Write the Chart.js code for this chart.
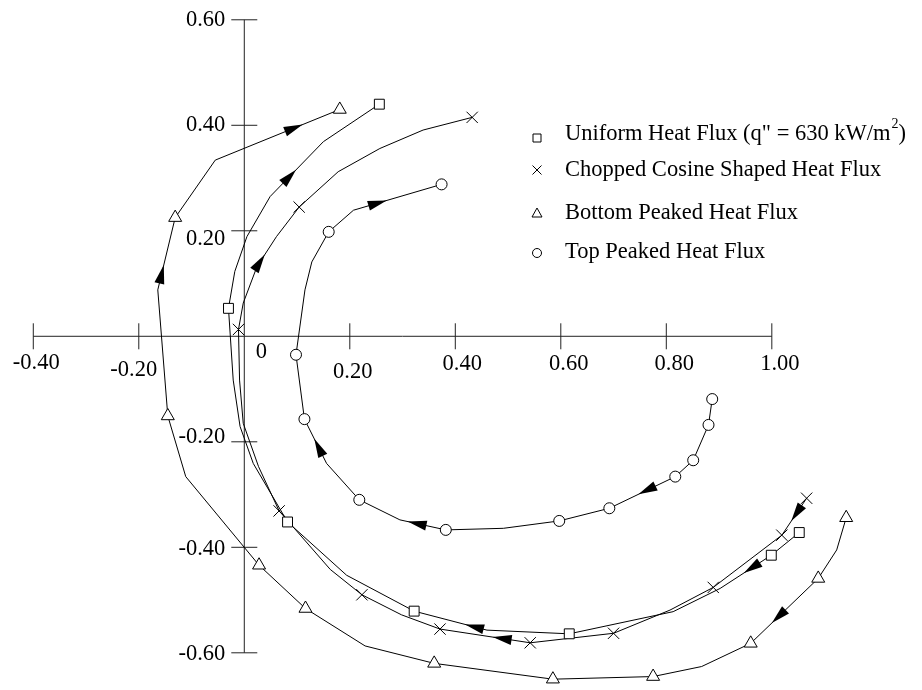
<!DOCTYPE html>
<html>
<head>
<meta charset="utf-8">
<script src="https://cdn.jsdelivr.net/npm/chart.js@4.4.0/dist/chart.umd.min.js"></script>
<style>
    html, body { margin: 0; padding: 0; background: #fff; }
    canvas { display: block; }
</style>
</head>
<body>
<canvas id="flux-chart" width="922" height="690"></canvas>
<script>
// every series is listed in flow order (the way the arrows point)

// Uniform Heat Flux
const uniformX = [1.052, 0.999, 0.902, 0.813, 0.616, 0.460, 0.322, 0.194, 0.082, 0.017, -0.008, -0.021, -0.030, -0.018, 0.005, 0.049, 0.150, 0.256]
const uniformY = [-0.372, -0.415, -0.478, -0.522, -0.564, -0.557, -0.521, -0.453, -0.352, -0.241, -0.171, -0.083, 0.053, 0.123, 0.189, 0.265, 0.369, 0.440]
const uniformMarked = [0, 1, 4, 6, 8, 12, 17]
const uniformArrowX = [0.962, 0.436, 0.083]
const uniformArrowY = [-0.437, -0.555, 0.304]

// Chopped Cosine Shaped Heat Flux
const cosineX = [1.066, 1.019, 0.889, 0.807, 0.700, 0.542, 0.371, 0.298, 0.223, 0.163, 0.066, 0.027, -0.002, -0.009, -0.011, -0.002, 0.024, 0.061, 0.104, 0.178, 0.257, 0.339, 0.432]
const cosineY = [-0.307, -0.377, -0.476, -0.519, -0.563, -0.581, -0.555, -0.528, -0.490, -0.442, -0.331, -0.247, -0.165, -0.083, 0.013, 0.063, 0.132, 0.189, 0.245, 0.312, 0.356, 0.391, 0.415]
const cosineMarked = [0, 1, 2, 4, 5, 6, 8, 10, 14, 18, 22]
const cosineArrowX = [1.054, 0.489, 0.030]
const cosineArrowY = [-0.339, -0.577, 0.138]

// Bottom Peaked Heat Flux
const bottomX = [1.141, 1.123, 1.088, 0.960, 0.867, 0.775, 0.585, 0.360, 0.229, 0.116, 0.028, -0.111, -0.145, -0.164, -0.131, -0.055, 0.181]
const bottomY = [-0.344, -0.405, -0.459, -0.582, -0.626, -0.645, -0.650, -0.620, -0.587, -0.516, -0.434, -0.266, -0.151, 0.088, 0.225, 0.334, 0.430]
const bottomMarked = [0, 2, 3, 5, 6, 7, 9, 10, 12, 14, 16]
const bottomArrowX = [1.021, -0.166, 0.092]
const bottomArrowY = [-0.538, 0.119, 0.397]

// Top Peaked Heat Flux
const topX = [0.887, 0.880, 0.851, 0.817, 0.692, 0.597, 0.491, 0.382, 0.295, 0.218, 0.156, 0.114, 0.098, 0.115, 0.128, 0.160, 0.207, 0.374]
const topY = [-0.119, -0.168, -0.235, -0.266, -0.326, -0.350, -0.364, -0.367, -0.348, -0.310, -0.241, -0.157, -0.035, 0.088, 0.141, 0.198, 0.239, 0.288]
const topMarked = [0, 1, 2, 3, 4, 5, 7, 9, 11, 12, 15, 17]
const topArrowX = [0.766, 0.327, 0.140, 0.251]
const topArrowY = [-0.295, -0.361, -0.212, 0.255]

// axes
const xTicks = [-0.4, -0.2, 0, 0.2, 0.4, 0.6, 0.8, 1.0]
const xTickLabels = ['-0.40', '-0.20', '0', '0.20', '0.40', '0.60', '0.80', '1.00']
const yTicks = [0.6, 0.4, 0.2, -0.2, -0.4, -0.6]
const yTickLabels = ['0.60', '0.40', '0.20', '-0.20', '-0.40', '-0.60']

const legendLabels = ['Uniform Heat Flux (q" = 630 kW/m', 'Chopped Cosine Shaped Heat Flux', 'Bottom Peaked Heat Flux', 'Top Peaked Heat Flux']

const FONT = '"Liberation Serif", "Times New Roman", serif'

const toPoints = (xs, ys) => xs.map((x, i) => ({ x: x, y: ys[i] }))

function series(xs, ys, marked, style, radius) {
    return {
        data: toPoints(xs, ys),
        showLine: true,
        tension: 0,
        borderColor: '#000',
        borderWidth: 1,
        pointStyle: style,
        pointRadius: ctx => marked.includes(ctx.dataIndex) ? radius : 0,
        pointBackgroundColor: '#fff',
        pointBorderColor: '#000',
        pointBorderWidth: 1,
    }
}

const arrows = [
    { xs: uniformX, ys: uniformY, ax: uniformArrowX, ay: uniformArrowY },
    { xs: cosineX, ys: cosineY, ax: cosineArrowX, ay: cosineArrowY },
    { xs: bottomX, ys: bottomY, ax: bottomArrowX, ay: bottomArrowY },
    { xs: topX, ys: topY, ax: topArrowX, ay: topArrowY },
]

// small nudges so the tick labels sit where they do in the figure
const xLabelShift = [[3, 369], [-5, 376], [17, 358], [3, 378], [7, 370], [8, 370], [8, 370], [8, 370]]
const yLabelBase = [26, 131, 245, 443, 555, 660]

const axesPlugin = {
    id: 'crossAxes',
    beforeDatasetsDraw(chart) {
        const ctx = chart.ctx
        const sx = chart.scales.x, sy = chart.scales.y
        const x0 = sx.getPixelForValue(0), y0 = sy.getPixelForValue(0)
        ctx.save()
        ctx.strokeStyle = '#222'
        ctx.lineWidth = 1
        ctx.beginPath()
        ctx.moveTo(sx.getPixelForValue(xTicks[0]), y0)
        ctx.lineTo(sx.getPixelForValue(xTicks[xTicks.length - 1]), y0)
        ctx.moveTo(x0, sy.getPixelForValue(yTicks[0]))
        ctx.lineTo(x0, sy.getPixelForValue(yTicks[yTicks.length - 1]))
        xTicks.forEach(v => {
            if (v === 0) return
            const px = sx.getPixelForValue(v)
            ctx.moveTo(px, y0 - 13)
            ctx.lineTo(px, y0 + 13)
        })
        yTicks.forEach(v => {
            const py = sy.getPixelForValue(v)
            ctx.moveTo(x0 - 13, py)
            ctx.lineTo(x0 + 13, py)
        })
        ctx.stroke()

        ctx.fillStyle = '#000'
        ctx.font = '22.5px ' + FONT
        ctx.textBaseline = 'alphabetic'
        ctx.textAlign = 'center'
        xTicks.forEach((v, i) => {
            ctx.fillText(xTickLabels[i], sx.getPixelForValue(v) + xLabelShift[i][0], xLabelShift[i][1])
        })
        ctx.textAlign = 'right'
        yTicks.forEach((v, i) => {
            ctx.fillText(yTickLabels[i], x0 - 19, yLabelBase[i])
        })
        ctx.restore()
    },
    afterDatasetsDraw(chart) {
        const ctx = chart.ctx
        const sx = chart.scales.x, sy = chart.scales.y
        ctx.save()
        ctx.fillStyle = '#000'
        arrows.forEach(a => {
            a.ax.forEach((vx, k) => {
                const px = sx.getPixelForValue(vx), py = sy.getPixelForValue(a.ay[k])
                let best = null
                for (let i = 0; i < a.xs.length - 1; i++) {
                    const x1 = sx.getPixelForValue(a.xs[i]), y1 = sy.getPixelForValue(a.ys[i])
                    const x2 = sx.getPixelForValue(a.xs[i + 1]), y2 = sy.getPixelForValue(a.ys[i + 1])
                    const dx = x2 - x1, dy = y2 - y1
                    let t = ((px - x1) * dx + (py - y1) * dy) / (dx * dx + dy * dy)
                    t = Math.max(0, Math.min(1, t))
                    const qx = x1 + t * dx, qy = y1 + t * dy
                    const d = (px - qx) ** 2 + (py - qy) ** 2
                    if (!best || d < best.d) best = { d: d, qx: qx, qy: qy, ang: Math.atan2(dy, dx) }
                }
                ctx.save()
                ctx.translate(best.qx, best.qy)
                ctx.rotate(best.ang)
                ctx.beginPath()
                ctx.moveTo(10, 0)
                ctx.lineTo(-9, -5)
                ctx.lineTo(-9, 5)
                ctx.closePath()
                ctx.fill()
                ctx.restore()
            })
        })

        // legend
        const lx = 537, tx = 565
        const markY = [138, 170, 213, 253]
        const textY = [140, 176, 219, 258]
        ctx.strokeStyle = '#000'
        ctx.lineWidth = 1
        ctx.fillStyle = '#fff'
        // square
        ctx.beginPath(); ctx.rect(lx - 4, markY[0] - 4, 8, 8); ctx.fill(); ctx.stroke()
        // cross
        ctx.beginPath()
        ctx.moveTo(lx - 4.5, markY[1] - 4.5); ctx.lineTo(lx + 4.5, markY[1] + 4.5)
        ctx.moveTo(lx + 4.5, markY[1] - 4.5); ctx.lineTo(lx - 4.5, markY[1] + 4.5)
        ctx.stroke()
        // triangle
        ctx.beginPath()
        ctx.moveTo(lx, markY[2] - 5); ctx.lineTo(lx + 5, markY[2] + 4); ctx.lineTo(lx - 5, markY[2] + 4); ctx.closePath()
        ctx.fill(); ctx.stroke()
        // circle
        ctx.beginPath(); ctx.arc(lx, markY[3], 4.5, 0, Math.PI * 2); ctx.fill(); ctx.stroke()

        ctx.fillStyle = '#000'
        ctx.font = '22.5px ' + FONT
        ctx.textAlign = 'left'
        ctx.textBaseline = 'alphabetic'
        legendLabels.forEach((t, i) => ctx.fillText(t, tx, textY[i]))
        // superscript 2 and closing bracket of the first entry
        let w = tx + ctx.measureText(legendLabels[0]).width
        ctx.font = '14px ' + FONT
        ctx.fillText('2', w + 1, textY[0] - 12)
        w += 1 + ctx.measureText('2').width
        ctx.font = '22.5px ' + FONT
        ctx.fillText(')', w, textY[0])
        ctx.restore()
    }
}

const chart = new Chart(document.getElementById('flux-chart'), {
    type: 'scatter',
    data: {
        datasets: [
            series(uniformX, uniformY, uniformMarked, 'rect', 7),
            series(cosineX, cosineY, cosineMarked, 'crossRot', 8),
            series(bottomX, bottomY, bottomMarked, 'triangle', 7.5),
            series(topX, topY, topMarked, 'circle', 5.5),
        ]
    },
    options: {
        responsive: false,
        animation: false,
        events: [],
        layout: { padding: 0, autoPadding: false },
        scales: {
            x: { type: 'linear', display: false, min: -0.4631, max: 1.2847 },
            y: { type: 'linear', display: false, min: -0.6705, max: 0.6375 },
        },
        plugins: {
            legend: { display: false },
            tooltip: { enabled: false },
        },
    },
    plugins: [axesPlugin],
});
</script>
</body>
</html>
